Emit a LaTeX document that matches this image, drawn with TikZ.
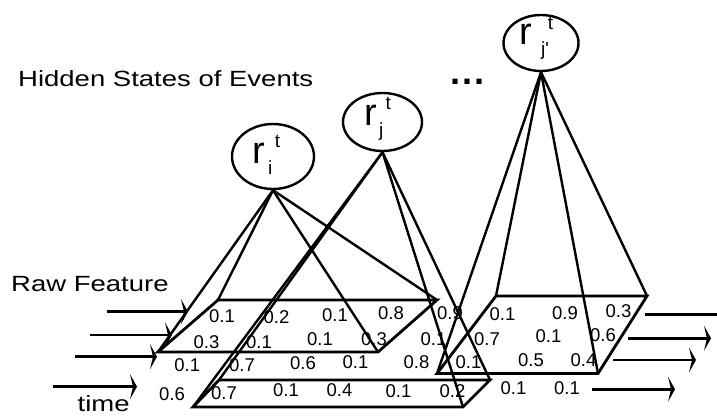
\documentclass[tikz,border=0pt]{standalone}
\usepackage{fontspec}
\setmainfont{Liberation Sans}
\usetikzlibrary{arrows.meta,shapes.geometric}

% event label: r with superscript t and a subscript; #2 and #3 are the
% horizontal offsets of the subscript and the superscript after the r
\newcommand\evlab[3]{%
  \fontsize{38}{38}\selectfont r%
  \rlap{\kern#3\raisebox{15.5pt}{\fontsize{19}{19}\selectfont t}}%
  \kern#2\raisebox{-11pt}{\fontsize{19}{19}\selectfont #1}}

\begin{document}
\begin{tikzpicture}[x=1pt,y=-1pt,
  edge/.style={line width=2.4pt, line join=miter},
  plane/.style={line width=2.8pt, line join=miter},
  evt/.style={draw, ellipse, line width=2.4pt, inner sep=0pt},
  num/.style={inner sep=0pt, font=\fontsize{18.5}{18.5}\selectfont},
  lab/.style={inner sep=0pt, anchor=base west, font=\fontsize{22}{22}\selectfont},
  evlabel/.style={inner sep=0pt, anchor=base west},
  flow/.style={line width=2.8pt,
    -{Stealth[length=7pt,width=25pt,inset=3pt,line width=1.1pt]}}
]
\useasboundingbox (0,0) rectangle (717,417);

% captions
\node[lab] (hidden) at (18,87) {\scalebox{1.25}[1]{Hidden States of Events}};
\node[lab] (raw) at (11,291.7) {\scalebox{1.25}[1]{Raw Feature}};
\node[lab] (time) at (77.5,411.7) {\scalebox{1.25}[1]{time}};
\node[evlabel, font=\fontsize{36}{36}\selectfont\bfseries] (dots) at (450.5,85)
  {.\kern1.7pt.\kern1.7pt.};

% hidden states
\node[evt, minimum width=82pt, minimum height=65pt] (ri)  at (273,156.5) {};
\node[evt, minimum width=79pt, minimum height=58pt] (rj)  at (382.5,122) {};
\node[evt, minimum width=75pt, minimum height=56pt] (rjp) at (541,43) {};
\node[evlabel] (riLab)  at (252.5,163.3) {\evlab{i}{2.8pt}{9.5pt}};
\node[evlabel] (rjLab)  at (364.2,125)   {\evlab{j}{2.0pt}{8.5pt}};
\node[evlabel] (rjpLab) at (519.2,45)    {\evlab{j\textquotesingle}{9.0pt}{15.8pt}};

% feature values
\foreach \n/\x/\y/\t in {
  a1/222/316/0.1, a2/276.5/316.7/0.2, a3/335/315/0.1, a4/391/313.5/0.8,
  a5/450/313/0.9, a6/502.5/314/0.1, a7/565/313/0.9, a8/618.5/311/0.3,
  b1/206.5/341.7/0.3, b2/259/341.7/0.1, b3/320/339/0.1, b4/374/339/0.3,
  b5/433.5/339/0.1, b6/487/339/0.7, b7/548.5/336.5/0.1, b8/603/335/0.6,
  c1/187.3/365/0.1, c2/242/365/0.7, c3/303/363/0.6, c4/355.5/362.5/0.1,
  c5/416.5/362.5/0.8, c6/468.5/362.5/0.1, c7/531/360.5/0.5, c8/583.5/360.5/0.4,
  d1/172/394.5/0.6, d2/224/393/0.7, d3/286/390.5/0.1, d4/339.5/390.5/0.4,
  d5/398.5/391/0.1, d6/452.5/391/0.2, d7/513.5/388.5/0.1, d8/567/388.5/0.1}
  \node[num] (\n) at (\x,\y) {\t};

% feature planes
\coordinate (p1a) at (218,300);   \coordinate (p1b) at (437,300);
\coordinate (p1c) at (378,352);   \coordinate (p1d) at (158,352);
\coordinate (p2a) at (219,380);   \coordinate (p2b) at (490,380);
\coordinate (p2c) at (463,407);   \coordinate (p2d) at (193,407);
\coordinate (p3a) at (496,296);   \coordinate (p3b) at (647,296);
\coordinate (p3c) at (598,373.5); \coordinate (p3d) at (437,373.5);
\draw[plane] (p1a) -- (p1b) -- (p1c) -- (p1d) -- cycle;
\draw[plane] (p2a) -- (p2b) -- (p2c) -- (p2d) -- cycle;
\draw[plane] (p3a) -- (p3b) -- (p3c) -- (p3d) -- cycle;

% pyramids from each hidden state to its plane
\foreach \c in {a,b,c,d} {
  \draw[edge] (ri.south)  -- (p1\c);
  \draw[edge] (rj.south)  -- (p2\c);
  \draw[edge] (rjp.south) -- (p3\c);
}

% incoming and outgoing time streams
\foreach \i/\a/\b/\y in {1/107/188/311.7, 2/90/172/335, 3/75/157/356.7, 4/53/137/386.7} {
  \coordinate (li\i) at (\a,\y); \coordinate (lo\i) at (\b,\y);
  \draw[flow] (li\i) -- (lo\i);
}
\foreach \i/\a/\b/\y in {1/645/729/314.3, 2/628/711/338.3, 3/613/696/360, 4/592/675/389.3} {
  \coordinate (ri\i) at (\a,\y); \coordinate (ro\i) at (\b,\y);
  \draw[flow] (ri\i) -- (ro\i);
}
\end{tikzpicture}
\end{document}
